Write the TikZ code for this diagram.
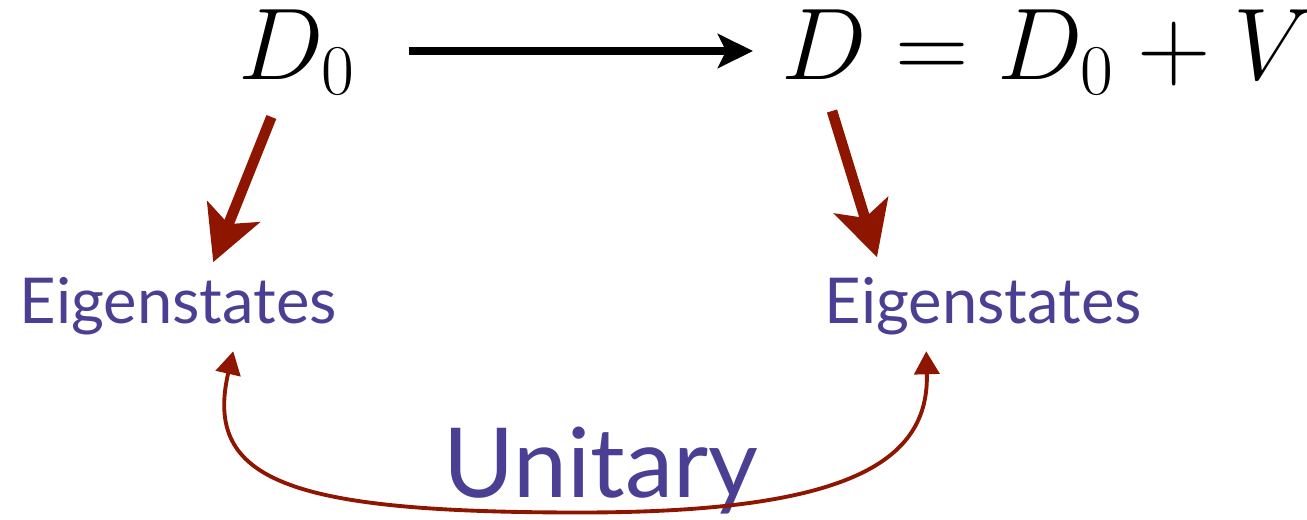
\RequirePackage{fix-cm}
\documentclass[tikz,border=0pt]{standalone}
\usepackage{fontspec}
\usepackage{tikz}
\usetikzlibrary{positioning,arrows.meta,calc}
\newfontfamily\eigfont{Lato}
\definecolor{dgRed}{HTML}{8E1600}
\definecolor{dgPurple}{HTML}{4A3F93}
\tikzset{
  dg-math/.style={inner sep=0pt, font=\fontsize{29}{33}\selectfont},
  dg-eig/.style={inner sep=0pt, text=dgPurple, font=\fontsize{18}{21}\eigfont},
  dg-unit/.style={inner sep=0pt, text=dgPurple, font=\fontsize{27.5}{32}\eigfont},
  dg-map/.style={-{Stealth[length=3.5mm, width=3.4mm, inset=0.8mm]},
    line width=2.3pt, draw=black},
  dg-eigen/.style={-{Stealth[length=5.4mm, width=5.6mm, inset=1.3mm]},
    line width=3pt, draw=dgRed},
  dg-unitary/.style={{Triangle[length=2.3mm, width=2.5mm]}-{Triangle[length=2.3mm, width=2.5mm]},
    line width=1.1pt, draw=dgRed}
}
\begin{document}
\begin{tikzpicture}
\useasboundingbox (0,0) rectangle (13.07,5.19);
% operators
\node[dg-math, anchor=base west] (d0) at (2.38,4.40) {$D_0$};
\node[dg-math, anchor=base west] (d) at (7.81,4.40) {$D = D_0 + V$};

% eigenstates
\node[dg-eig, anchor=base west] (eigL) at (0.19,1.96) {Eigenstates};
\node[dg-eig, anchor=base west] (eigR) at (8.24,1.96) {Eigenstates};
\node[dg-unit, anchor=base west] (unit) at (4.43,0.22) {Unitary};

% relations
\draw[dg-map] ([shift={(0.52,0.28)}]d0.base east) -- ([shift={(-0.28,0.28)}]d.base west);
\draw[dg-eigen] ([shift={(-0.26,-0.22)}]d0.south) -- ([shift={(0.35,0.14)}]eigL.north);
\draw[dg-eigen] ([shift={(0.51,-0.16)}]d.south west) -- ([shift={(0.53,0.19)}]eigR.north west);

\coordinate (ubot) at (5.8,0.065);
\draw[dg-unitary] ([shift={(0.55,-0.16)}]eigL.south)
  .. controls +(-0.3,-1.3) and +(-2.9,0) .. (ubot)
  .. controls +(2.7,0) and +(0.03,-1.1) .. ([shift={(-0.57,-0.16)}]eigR.south);
\end{tikzpicture}
\end{document}
